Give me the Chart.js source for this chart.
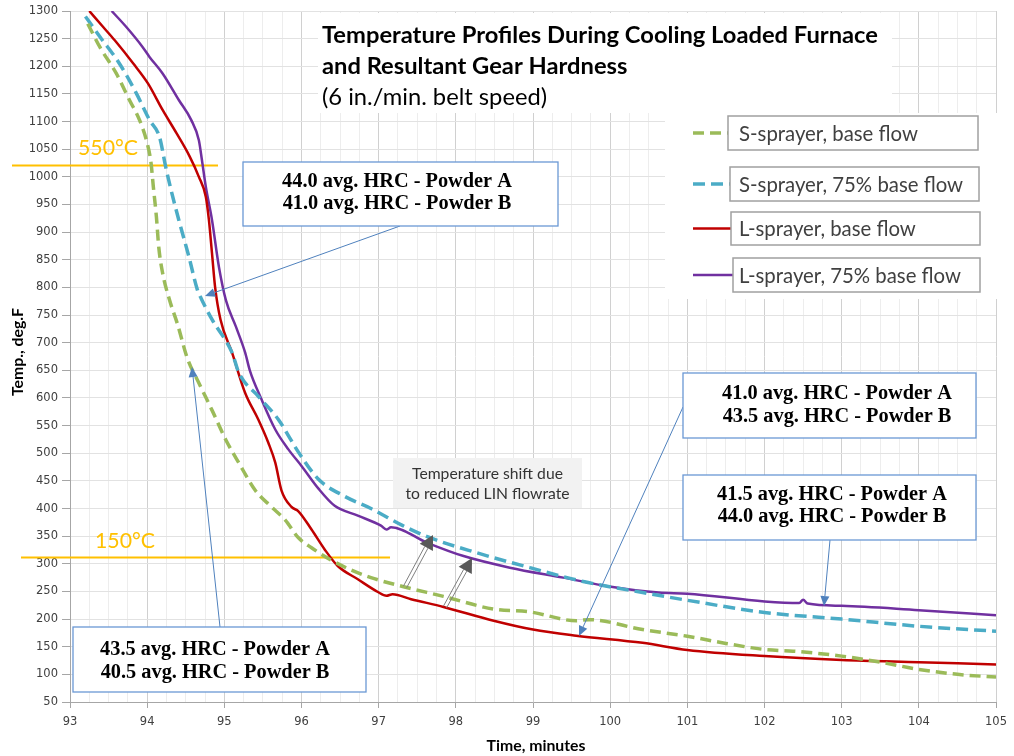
<!DOCTYPE html>
<html>
<head>
<meta charset="utf-8">
<script src="https://cdn.jsdelivr.net/npm/chart.js@4.4.1/dist/chart.umd.min.js"></script>
<style>
  html, body { margin: 0; padding: 0; background: #ffffff; }
  #wrap { width: 1014px; height: 756px; position: relative; }
</style>
</head>
<body>
<div id="wrap"><canvas id="c" width="1014" height="756"></canvas></div>
<script>
// ---------- data ----------
const seriesLabels = ['S-sprayer, base flow', 'S-sprayer, 75% base flow', 'L-sprayer, base flow', 'L-sprayer, 75% base flow'];

const greenTime = [93.23, 93.39, 93.60, 93.77, 93.90, 94.00, 94.05, 94.08, 94.12, 94.15, 94.20, 94.29, 94.39, 94.52, 94.67, 94.84, 95.02, 95.19, 95.40, 95.61, 95.79, 95.96, 96.13, 96.38, 96.64, 96.90, 97.31, 97.84, 98.49, 98.96, 99.56, 99.72, 100.42, 101.00, 101.50, 102.00, 102.37, 103.00, 103.50, 104.00, 104.50, 105.00];
const greenTemp = [1277, 1234, 1187, 1139, 1103, 1061, 1025, 982, 927, 873, 826, 777, 735, 672, 627, 578, 524, 482, 433, 403, 379, 347, 329, 307, 289, 275, 259, 241, 218, 213, 197, 199, 181, 169, 156, 145, 142, 133, 122, 109, 100, 95];

const tealTime = [93.20, 93.39, 93.64, 93.86, 94.03, 94.16, 94.24, 94.31, 94.41, 94.54, 94.65, 94.70, 94.84, 95.10, 95.19, 95.44, 95.70, 95.96, 96.22, 96.56, 96.90, 97.30, 97.63, 98.27, 98.96, 99.65, 100.42, 101.00, 102.00, 103.00, 104.00, 105.00];
const tealTemp = [1290, 1253, 1205, 1151, 1103, 1072, 1018, 976, 922, 856, 796, 780, 742, 682, 645, 603, 561, 502, 453, 422, 400, 370, 349, 320, 293, 268, 248, 234, 212, 200, 187, 178];

const redTime = [93.25, 93.43, 93.58, 93.82, 94.01, 94.20, 94.38, 94.55, 94.67, 94.76, 94.80, 94.84, 94.88, 94.95, 95.10, 95.27, 95.44, 95.57, 95.66, 95.74, 95.87, 95.96, 96.13, 96.30, 96.47, 96.73, 96.99, 97.10, 97.18, 97.42, 97.84, 98.49, 99.00, 99.56, 100.42, 101.00, 102.00, 103.00, 104.00, 105.00];
const redTemp = [1300, 1271, 1247, 1205, 1169, 1121, 1079, 1037, 1000, 964, 922, 862, 801, 742, 682, 609, 561, 519, 483, 433, 403, 395, 362, 326, 296, 272, 249, 242, 245, 236, 222, 197, 181, 170, 157, 144, 133, 126, 122, 118];

const purpleTime = [93.54, 93.73, 93.94, 94.03, 94.20, 94.41, 94.57, 94.67, 94.71, 94.76, 94.84, 94.93, 95.02, 95.15, 95.27, 95.33, 95.48, 95.66, 95.83, 96.00, 96.22, 96.43, 96.73, 97.03, 97.10, 97.16, 97.63, 98.10, 98.70, 99.39, 99.99, 100.63, 101.00, 102.00, 102.45, 102.50, 102.56, 103.00, 104.00, 105.00];
const purpleTemp = [1300, 1271, 1235, 1217, 1187, 1139, 1103, 1066, 1030, 982, 922, 837, 777, 729, 682, 650, 598, 543, 507, 477, 436, 405, 387, 369, 362, 366, 338, 314, 293, 275, 259, 248, 246, 232, 229, 235, 228, 224, 216, 207];

const titleLines = ['Temperature Profiles During Cooling Loaded Furnace', 'and Resultant Gear Hardness', '(6 in./min. belt speed)'];
const xAxisTitle = 'Time, minutes';
const yAxisTitle = 'Temp., deg.F';
const boxTextA = ['44.0 avg. HRC - Powder A', '41.0 avg. HRC - Powder B'];
const boxTextB = ['43.5 avg. HRC - Powder A', '40.5 avg. HRC - Powder B'];
const boxTextC = ['41.0 avg. HRC - Powder A', '43.5 avg. HRC - Powder B'];
const boxTextD = ['41.5 avg. HRC - Powder A', '44.0 avg. HRC - Powder B'];
const shiftNote = ['Temperature shift due', 'to reduced LIN flowrate'];
const refLabels = ['550\u00B0C', '150\u00B0C'];
const refLineTemps = [1021, 313];

// ---------- helpers ----------
function pts(t, v) { return t.map((x, i) => ({ x: x, y: v[i] })); }
function isInt(v) { return Math.abs(v - Math.round(v)) < 1e-6; }
function fitSize(ctx, text, weight, family, target) {
  ctx.font = weight + ' 100px ' + family;
  return 100 * target / ctx.measureText(text).width;
}
function arrow(ctx, x1, y1, x2, y2, color, hl, hw) {
  const a = Math.atan2(y2 - y1, x2 - x1);
  const bx = x2 - hl * Math.cos(a), by = y2 - hl * Math.sin(a);
  ctx.save();
  ctx.strokeStyle = color; ctx.fillStyle = color; ctx.lineWidth = 1;
  ctx.beginPath(); ctx.moveTo(x1, y1); ctx.lineTo(bx, by); ctx.stroke();
  ctx.beginPath();
  ctx.moveTo(x2, y2);
  ctx.lineTo(bx + hw / 2 * Math.sin(a), by - hw / 2 * Math.cos(a));
  ctx.lineTo(bx - hw / 2 * Math.sin(a), by + hw / 2 * Math.cos(a));
  ctx.closePath(); ctx.fill();
  ctx.restore();
}
function hollowArrow(ctx, x1, y1, x2, y2) {
  const a = Math.atan2(y2 - y1, x2 - x1);
  const hl = 14, hw = 15, off = 1.8;
  const bx = x2 - hl * Math.cos(a), by = y2 - hl * Math.sin(a);
  const nx = Math.sin(a), ny = -Math.cos(a);
  ctx.save();
  ctx.strokeStyle = '#7f7f7f'; ctx.lineWidth = 1;
  [off, -off].forEach(o => {
    ctx.beginPath(); ctx.moveTo(x1 + nx * o, y1 + ny * o); ctx.lineTo(bx + nx * o, by + ny * o); ctx.stroke();
  });
  ctx.fillStyle = '#595959';
  ctx.beginPath();
  ctx.moveTo(x2, y2);
  ctx.lineTo(bx + nx * hw / 2, by + ny * hw / 2);
  ctx.lineTo(bx - nx * hw / 2, by - ny * hw / 2);
  ctx.closePath(); ctx.fill();
  ctx.restore();
}
function hrcBox(ctx, x, y, w, h, lines, cx, ly, size) {
  ctx.save();
  ctx.fillStyle = '#ffffff'; ctx.fillRect(x, y, w, h);
  ctx.strokeStyle = '#6a98d4'; ctx.lineWidth = 1.3; ctx.strokeRect(x, y, w, h);
  ctx.fillStyle = '#000000';
  ctx.font = 'bold ' + size + 'px "Liberation Serif"';
  ctx.textAlign = 'center'; ctx.textBaseline = 'middle';
  ctx.fillText(lines[0], cx, ly[0]);
  ctx.fillText(lines[1], cx, ly[1]);
  ctx.restore();
}

const SANS = 'Lato';

const overlay = {
  id: 'overlay',
  beforeDatasetsDraw(chart) {
    const ctx = chart.ctx;
    const ys = chart.scales.y;
    ctx.save();
    ctx.fillStyle = '#ffffff';
    ctx.fillRect(318, 13, 574, 100);   // title background
    ctx.fillRect(665, 113, 337, 186);  // legend background
    // reference temperature lines (550 C, 150 C)
    ctx.strokeStyle = '#ffc000'; ctx.lineWidth = 2;
    let y1 = Math.round(ys.getPixelForValue(refLineTemps[0])) + 0.5;
    ctx.beginPath(); ctx.moveTo(12, y1); ctx.lineTo(218, y1); ctx.stroke();
    let y2 = Math.round(ys.getPixelForValue(refLineTemps[1])) + 0.5;
    ctx.beginPath(); ctx.moveTo(21, y2); ctx.lineTo(390, y2); ctx.stroke();
    ctx.restore();
  },
  afterDatasetsDraw(chart) {
    const ctx = chart.ctx;
    const ds = chart.data.datasets;
    ctx.save();

    // title
    const ts = fitSize(ctx, titleLines[0], 'bold', SANS, 556);
    ctx.fillStyle = '#000000'; ctx.textAlign = 'left'; ctx.textBaseline = 'middle';
    ctx.font = 'bold ' + ts + 'px ' + SANS;
    ctx.fillText(titleLines[0], 322, 35);
    ctx.fillText(titleLines[1], 322, 66);
    ctx.font = ts + 'px ' + SANS;
    ctx.fillText(titleLines[2], 322, 97);

    // legend
    const ls = fitSize(ctx, seriesLabels[0], 'normal', SANS, 179);
    const boxes = [[728, 116, 250, 34], [730, 167, 249, 34], [731, 212, 249, 33], [733, 258, 247, 34]];
    boxes.forEach((b, i) => {
      const cy = b[1] + b[3] / 2;
      ctx.save();
      ctx.strokeStyle = ds[i].borderColor; ctx.lineWidth = ds[i].borderWidth;
      ctx.setLineDash(ds[i].borderDash || []);
      ctx.beginPath(); ctx.moveTo(693, cy); ctx.lineTo(b[0], cy); ctx.stroke();
      ctx.restore();
      ctx.fillStyle = '#ffffff'; ctx.fillRect(b[0], b[1], b[2], b[3]);
      ctx.strokeStyle = '#a0a0a0'; ctx.lineWidth = 1.5; ctx.strokeRect(b[0], b[1], b[2], b[3]);
      ctx.fillStyle = '#404040'; ctx.font = ls + 'px ' + SANS;
      ctx.textAlign = 'left'; ctx.textBaseline = 'middle';
      ctx.fillText(ds[i].label, 739, cy + 1);
    });

    // HRC boxes and arrows
    const hs = fitSize(ctx, boxTextA[0], 'bold', '"Liberation Serif"', 230);
    arrow(ctx, 400, 226, 205, 296, '#4f81bd', 10, 9);
    hrcBox(ctx, 243, 162, 315, 64, boxTextA, 397, [182, 204], hs);
    arrow(ctx, 220, 627, 192, 367, '#4f81bd', 10, 9);
    hrcBox(ctx, 73, 627, 293, 65, boxTextB, 215, [650, 673], hs);
    arrow(ctx, 683, 407, 579, 636, '#4f81bd', 10, 9);
    hrcBox(ctx, 683, 373, 293, 65, boxTextC, 837, [394, 417], hs);
    arrow(ctx, 830, 540, 824, 606, '#4f81bd', 10, 9);
    hrcBox(ctx, 683, 475, 293, 65, boxTextD, 832, [495, 517], hs);

    // temperature shift note
    ctx.fillStyle = '#f2f2f2'; ctx.fillRect(393, 458, 189, 50);
    const ns = fitSize(ctx, shiftNote[0], 'normal', SANS, 151);
    ctx.fillStyle = '#333333'; ctx.font = ns + 'px ' + SANS;
    ctx.textAlign = 'center'; ctx.textBaseline = 'middle';
    ctx.fillText(shiftNote[0], 487.5, 474);
    ctx.fillText(shiftNote[1], 487.5, 494);
    hollowArrow(ctx, 405, 587, 433, 535);
    hollowArrow(ctx, 445, 607, 472, 558);

    // reference labels
    const os = fitSize(ctx, refLabels[0], 'normal', SANS, 60);
    ctx.fillStyle = '#ffc000'; ctx.font = os + 'px ' + SANS;
    ctx.textAlign = 'left'; ctx.textBaseline = 'middle';
    ctx.fillText(refLabels[0], 78, 148);
    ctx.fillText(refLabels[1], 95, 541);

    // axis titles
    const xs = fitSize(ctx, xAxisTitle, 'bold', SANS, 99);
    ctx.fillStyle = '#000000'; ctx.font = 'bold ' + xs + 'px ' + SANS;
    ctx.textAlign = 'center'; ctx.textBaseline = 'middle';
    ctx.fillText(xAxisTitle, 536, 746);
    ctx.save();
    ctx.translate(18, 352); ctx.rotate(-Math.PI / 2);
    ctx.fillText(yAxisTitle, 0, 0);
    ctx.restore();

    ctx.restore();
  }
};

const tickFont = { family: '"DejaVu Sans"', size: 11.5 };

new Chart(document.getElementById('c'), {
  type: 'scatter',
  data: {
    datasets: [
      { label: seriesLabels[0], data: pts(greenTime, greenTemp), borderColor: '#9bbb59', borderWidth: 3.5, borderDash: [11, 6] },
      { label: seriesLabels[1], data: pts(tealTime, tealTemp), borderColor: '#4bacc6', borderWidth: 3.5, borderDash: [12, 6] },
      { label: seriesLabels[2], data: pts(redTime, redTemp), borderColor: '#c00000', borderWidth: 2.5 },
      { label: seriesLabels[3], data: pts(purpleTime, purpleTemp), borderColor: '#7030a0', borderWidth: 2.5 }
    ].map(d => Object.assign(d, { showLine: true, pointRadius: 0, pointHoverRadius: 0, fill: false, cubicInterpolationMode: 'monotone' }))
  },
  options: {
    responsive: false,
    animation: false,
    devicePixelRatio: 1,
    layout: { padding: { top: 11, right: 11, left: 0, bottom: 0 } },
    plugins: { legend: { display: false }, tooltip: { enabled: false }, title: { display: false } },
    scales: {
      x: {
        type: 'linear', min: 93, max: 105,
        afterFit(s) { s.height = 54; },
        ticks: {
          stepSize: 0.25, autoSkip: false, maxRotation: 0, minRotation: 0,
          color: '#404040', font: tickFont, padding: 7,
          callback: v => isInt(v) ? String(Math.round(v)) : ''
        },
        grid: {
          color: c => isInt(c.tick.value) ? '#d0d0d0' : '#ededed',
          tickColor: c => isInt(c.tick.value) ? '#a6a6a6' : 'rgba(0,0,0,0)',
          tickLength: 6, lineWidth: 1
        },
        border: { color: '#a6a6a6', width: 1 }
      },
      y: {
        type: 'linear', min: 50, max: 1300,
        afterFit(s) { s.width = 70; },
        ticks: { stepSize: 50, color: '#404040', font: tickFont, padding: 4, autoSkip: false,
                 callback: v => String(Math.round(v)) },
        grid: { color: '#e2e2e2', tickColor: '#a6a6a6', tickLength: 8, lineWidth: 1 },
        border: { color: '#a6a6a6', width: 1 }
      }
    }
  },
  plugins: [overlay]
});
</script>
</body>
</html>
